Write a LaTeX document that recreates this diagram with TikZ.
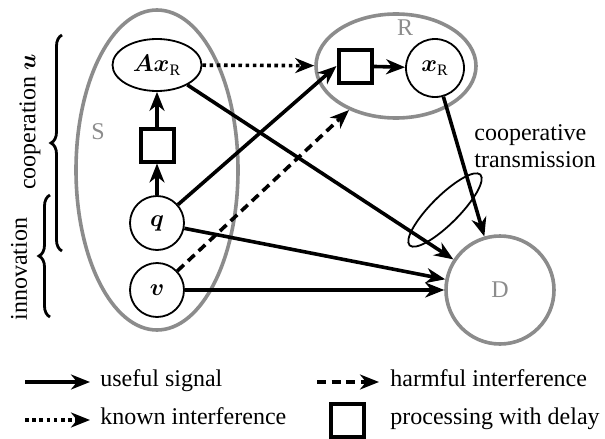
\documentclass[tikz,border=0pt]{standalone}
\usepackage{amsmath}
\usepackage{fontspec}
\setmainfont{Liberation Serif}
\usetikzlibrary{arrows.meta,shapes.geometric,decorations.pathreplacing}
\definecolor{ringgray}{gray}{0.55}
\begin{document}
\begin{tikzpicture}[x=0.5pt,y=-0.5pt, font=\fontsize{12}{13.5}\selectfont,
 >={Stealth[length=9.5pt,width=7.5pt,inset=3pt]},
 sig/.style={->,line width=1.8pt},
 known/.style={sig, dash pattern=on 1.8pt off 1.8pt},
 harm/.style={sig, dash pattern=on 4.5pt off 2.8pt},
 grp/.style={draw=ringgray,line width=1.8pt,ellipse,inner sep=0pt},
 var/.style={draw,line width=0.9pt,circle,inner sep=0pt,minimum size=27pt},
 proc/.style={draw,line width=2pt,inner sep=0pt,minimum size=16.5pt},
 lbl/.style={text=ringgray},
 bracedeco/.style={decorate,decoration={brace,amplitude=5.5pt},line width=1.4pt},
 legtext/.style={anchor=mid west,inner sep=0pt},
]
\useasboundingbox (0,0) rectangle (605,439);
% groups
\node[grp,minimum width=81pt,minimum height=160pt] (S) at (157,170) {};
\node[grp,minimum width=80pt,minimum height=52pt] (R) at (396,66) {};
\node[draw=ringgray,line width=1.8pt,circle,inner sep=0pt,minimum size=54pt,text=ringgray] (D) at (500,290) {D};
\node[lbl] (Slbl) at (98,132) {S};
\node[lbl] (Rlbl) at (405,28) {R};
% signals
\node[draw,ellipse,line width=0.9pt,minimum width=44.5pt,minimum height=26pt,inner sep=0pt] (Ax) at (157,65) {$\boldsymbol{Ax}_{\mathrm{R}}$};
\node[proc] (bS) at (157,145) {};
\node[var] (q) at (157,223) {$\boldsymbol{q}$};
\node[var] (v) at (157,290) {$\boldsymbol{v}$};
\node[proc] (bR) at (355,66) {};
\node[var,minimum size=29pt] (xR) at (435,68) {$\boldsymbol{x}_{\mathrm{R}}$};
% connectors
\draw[sig] (q) -- (bS);
\draw[sig] (bS) -- (Ax);
\draw[known] (Ax) -- (R);
\draw[sig] (q) -- (bR.west);
\draw[harm] (v) -- (R);
\draw[sig] (Ax) -- (D);
\draw[sig] (q) -- (D);
\draw[sig] (v) -- (D);
\draw[sig] (bR) -- (xR);
\draw[sig] (xR) -- (D);
% cooperative transmission
\node[draw,ellipse,line width=0.9pt,minimum width=50pt,minimum height=14pt,rotate=45,inner sep=0pt] (coop) at (445,210) {};
\node[align=left,anchor=west,inner sep=0pt] (ct) at (474,146) {cooperative\\transmission};
% braces
\coordinate (c1) at (62,251); \coordinate (c2) at (62,35);
\draw[bracedeco] (c1) -- (c2);
\node[rotate=90] (coopL) at (30,122) {cooperation $\boldsymbol{u}$};
\coordinate (i1) at (50,317); \coordinate (i2) at (50,195);
\draw[bracedeco] (i1) -- (i2);
\node[rotate=90] (innL) at (19,269) {innovation};
% legend
\coordinate (l1a) at (25,382); \coordinate (l1b) at (90,382);
\draw[sig] (l1a) -- (l1b);
\node[legtext] (t1) at (100,382) {useful signal};
\coordinate (l2a) at (25,420); \coordinate (l2b) at (90,420);
\draw[known] (l2a) -- (l2b);
\node[legtext] (t2) at (100,420) {known interference};
\coordinate (l3a) at (317,382); \coordinate (l3b) at (379,382);
\draw[harm] (l3a) -- (l3b);
\node[legtext] (t3) at (390,382) {harmful interference};
\node[proc] (lb) at (347,420) {};
\node[legtext] (t4) at (390,420) {processing with delay};
\end{tikzpicture}
\end{document}
